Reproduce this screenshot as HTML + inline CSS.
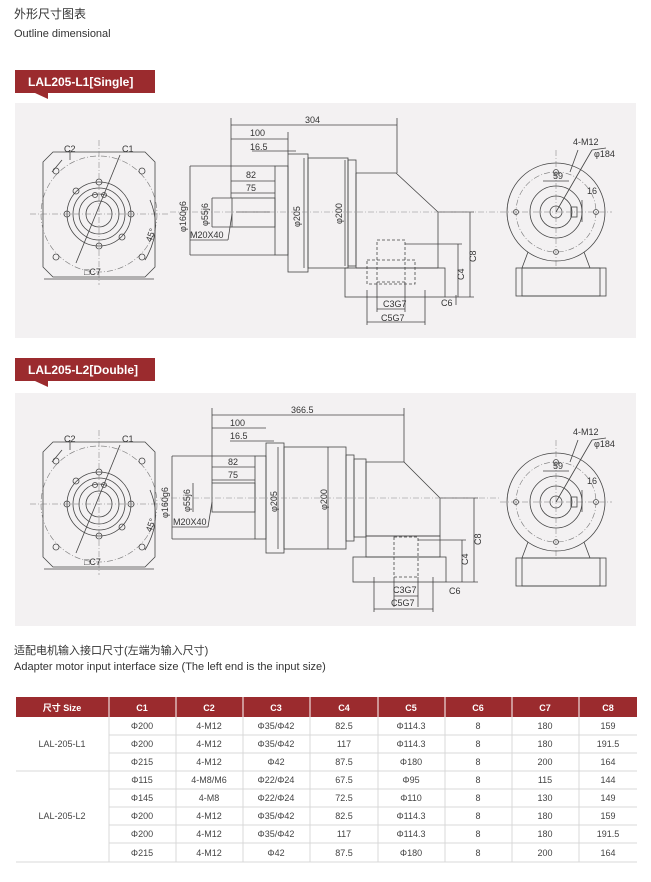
<!DOCTYPE html>
<html><head><meta charset="utf-8"><style>
html,body{margin:0;padding:0;background:#fff;}
body{width:651px;height:877px;overflow:hidden;}
svg text{font-family:"Liberation Sans","Noto Sans CJK SC",sans-serif;}
</style></head><body>
<svg width="651" height="877" viewBox="0 0 651 877" xmlns="http://www.w3.org/2000/svg">
<defs>
<g id="leftv" fill="none" stroke="#444" stroke-width="0.8">
  <path d="M53,152 L145,152 L155,162 L155,267 L145,277 L53,277 L43,267 L43,162 Z"/>
  <circle cx="99" cy="214" r="58" stroke-dasharray="6,2,1,2" stroke="#777" stroke-width="0.6"/>
  <circle cx="99" cy="214" r="32"/>
  <circle cx="99" cy="214" r="26"/>
  <circle cx="99" cy="214" r="20"/>
  <circle cx="99" cy="214" r="13"/>
  <circle cx="99" cy="182" r="3"/><circle cx="99" cy="246" r="3"/>
  <circle cx="67" cy="214" r="3"/><circle cx="131" cy="214" r="3"/>
  <circle cx="76" cy="191" r="3"/><circle cx="122" cy="237" r="3"/>
  <circle cx="56" cy="171" r="3"/><circle cx="142" cy="171" r="3"/>
  <circle cx="56" cy="257" r="3"/><circle cx="142" cy="257" r="3"/>
  <circle cx="95" cy="195" r="2.5"/><circle cx="104" cy="195" r="2.5"/>
  <line x1="30" y1="214" x2="170" y2="214" stroke-dasharray="6,2,1,2" stroke="#777" stroke-width="0.5"/>
  <line x1="99" y1="140" x2="99" y2="285" stroke-dasharray="6,2,1,2" stroke="#777" stroke-width="0.5"/>
  <line x1="70" y1="160" x2="70" y2="150"/><line x1="120" y1="155" x2="76" y2="263"/>
  <line x1="62" y1="160" x2="52" y2="172"/>
  <line x1="44" y1="279" x2="154" y2="279"/>
  <path d="M145,260 Q163,230 150,200" />
</g>
<g id="rightv" fill="none" stroke="#444" stroke-width="0.8">
  <circle cx="556" cy="212" r="49"/>
  <circle cx="556" cy="212" r="40" stroke-dasharray="6,2,1,2" stroke="#777" stroke-width="0.6"/>
  <circle cx="556" cy="212" r="26"/>
  <circle cx="556" cy="212" r="16"/>
  <circle cx="556" cy="212" r="6"/>
  <rect x="571" y="207" width="6" height="10"/>
  <circle cx="556" cy="172" r="2.5"/><circle cx="556" cy="252" r="2.5"/>
  <circle cx="516" cy="212" r="2.5"/><circle cx="596" cy="212" r="2.5"/>
  <path d="M528,252 L522,268 M584,252 L590,268"/>
  <rect x="516" y="268" width="90" height="28"/>
  <rect x="522" y="268" width="78" height="28"/>
  <line x1="500" y1="212" x2="612" y2="212" stroke-dasharray="6,2,1,2" stroke="#777" stroke-width="0.5"/>
  <line x1="556" y1="150" x2="556" y2="270" stroke-dasharray="6,2,1,2" stroke="#777" stroke-width="0.5"/>
  <line x1="556" y1="212" x2="592" y2="150"/><line x1="592" y1="150" x2="606" y2="148"/>
  <line x1="570" y1="172" x2="578" y2="150"/>
  <line x1="543" y1="181" x2="569" y2="181"/>
  <line x1="582" y1="200" x2="582" y2="222"/>
</g>
<g id="lefttxt" font-size="9" fill="#333">
  <text x="64" y="152">C2</text><text x="122" y="152">C1</text>
  <text x="84" y="275">□C7</text>
  <text x="148" y="242" transform="rotate(-70 150 240)">45°</text>
</g>
<g id="righttxt" font-size="9" fill="#333">
  <text x="573" y="145">4-M12</text><text x="594" y="157">φ184</text>
  <text x="553" y="179">59</text><text x="587" y="194">16</text>
</g>
</defs>

<text x="14" y="18" font-size="12" fill="#333">外形尺寸图表</text>
<text x="14" y="37" font-size="11" fill="#333">Outline dimensional</text>

<!-- Section 1 -->
<rect x="15" y="70" width="140" height="23" fill="#9b2b2e"/>
<path d="M35,93 L48,93 L48,99 Z" fill="#9b2b2e"/>
<text x="28" y="86" font-size="12" font-weight="bold" fill="#fff">LAL205-L1[Single]</text>
<rect x="15" y="103" width="621" height="235" fill="#f3f1f2"/>
<use href="#leftv"/><use href="#lefttxt"/><use href="#rightv"/><use href="#righttxt"/>
<g fill="none" stroke="#444" stroke-width="0.8">
  <rect x="232" y="198" width="43" height="29"/>
  <path d="M236,212 L270,212"/>
  <rect x="275" y="166" width="13" height="89"/>
  <rect x="288" y="154" width="20" height="118"/>
  <rect x="308" y="158" width="40" height="110"/>
  <rect x="348" y="160" width="8" height="106"/>
  <path d="M356,173 L396,173 L438,212 L438,268 M356,268 L438,268"/>
  <path d="M356,268 L356,173"/>
  <rect x="345" y="268" width="100" height="29"/>
  <rect x="377" y="240" width="28" height="42" stroke-dasharray="3,2"/>
  <rect x="367" y="260" width="48" height="24" stroke-dasharray="3,2"/>
  <line x1="231" y1="118" x2="231" y2="198"/><line x1="397" y1="118" x2="397" y2="173"/>
  <line x1="231" y1="125" x2="397" y2="125"/>
  <line x1="231" y1="139" x2="288" y2="139"/><line x1="288" y1="132" x2="288" y2="154"/>
  <line x1="252" y1="151" x2="296" y2="151"/>
  <line x1="231" y1="181" x2="275" y2="181"/>
  <line x1="231" y1="193" x2="275" y2="193"/>
  <line x1="190" y1="166" x2="190" y2="255"/><line x1="190" y1="166" x2="275" y2="166"/><line x1="190" y1="255" x2="275" y2="255"/>
  <line x1="212" y1="198" x2="212" y2="227"/><line x1="212" y1="198" x2="232" y2="198"/><line x1="212" y1="227" x2="232" y2="227"/>
  <line x1="228" y1="240" x2="232" y2="214"/><line x1="190" y1="240" x2="228" y2="240"/>
  <line x1="304" y1="158" x2="304" y2="268"/><line x1="345" y1="160" x2="345" y2="266"/>
  <line x1="438" y1="212" x2="474" y2="212"/><line x1="470" y1="212" x2="470" y2="297"/>
  <line x1="445" y1="297" x2="474" y2="297"/>
  <line x1="405" y1="244" x2="462" y2="244"/><line x1="458" y1="244" x2="458" y2="297"/>
  <line x1="456" y1="305" x2="456" y2="295"/>
  <line x1="377" y1="282" x2="377" y2="312"/><line x1="405" y1="282" x2="405" y2="312"/>
  <line x1="367" y1="290" x2="367" y2="325"/><line x1="425" y1="290" x2="425" y2="325"/>
  <line x1="377" y1="309" x2="405" y2="309"/><line x1="367" y1="322" x2="425" y2="322"/>
  <line x1="170" y1="212" x2="500" y2="212" stroke-dasharray="6,2,1,2" stroke="#888" stroke-width="0.5"/>
</g>
<g font-size="9" fill="#333">
  <text x="305" y="123">304</text><text x="250" y="136">100</text><text x="250" y="150">16.5</text>
  <text x="246" y="178">82</text><text x="246" y="191">75</text>
  <text x="190" y="238">M20X40</text>
  <text transform="translate(186,232) rotate(-90)">φ160g6</text>
  <text transform="translate(208,226) rotate(-90)">φ55j6</text>
  <text transform="translate(300,227) rotate(-90)">φ205</text>
  <text transform="translate(342,224) rotate(-90)">φ200</text>
  <text transform="translate(476,262) rotate(-90)">C8</text>
  <text transform="translate(464,280) rotate(-90)">C4</text>
  <text x="441" y="306">C6</text>
  <text x="383" y="307">C3G7</text><text x="381" y="321">C5G7</text>
</g>

<!-- Section 2 -->
<rect x="15" y="358" width="140" height="23" fill="#9b2b2e"/>
<path d="M35,381 L48,381 L48,387 Z" fill="#9b2b2e"/>
<text x="28" y="374" font-size="12" font-weight="bold" fill="#fff">LAL205-L2[Double]</text>
<rect x="15" y="393" width="621" height="233" fill="#f3f1f2"/>
<g transform="translate(0,290)"><use href="#leftv"/><use href="#lefttxt"/><use href="#rightv"/><use href="#righttxt"/></g>
<g fill="none" stroke="#444" stroke-width="0.8">
  <rect x="212" y="483" width="43" height="29"/>
  <rect x="255" y="456" width="11" height="83"/>
  <rect x="266" y="443" width="18" height="110"/>
  <rect x="284" y="447" width="62" height="102"/>
  <rect x="346" y="455" width="8" height="86"/>
  <rect x="354" y="459" width="12" height="78"/>
  <path d="M366,462 L404,462 L440,498 L440,536 L366,536 Z"/>
  <rect x="353" y="557" width="93" height="25"/>
  <rect x="366" y="536" width="74" height="21"/>
  <rect x="394" y="537" width="24" height="40" stroke-dasharray="3,2"/>
  <line x1="212" y1="408" x2="212" y2="483"/><line x1="404" y1="408" x2="404" y2="462"/>
  <line x1="212" y1="415" x2="404" y2="415"/>
  <line x1="212" y1="428" x2="266" y2="428"/>
  <line x1="230" y1="441" x2="274" y2="441"/>
  <line x1="212" y1="467" x2="255" y2="467"/>
  <line x1="212" y1="480" x2="255" y2="480"/>
  <line x1="172" y1="456" x2="172" y2="539"/><line x1="172" y1="456" x2="255" y2="456"/><line x1="172" y1="539" x2="255" y2="539"/>
  <line x1="193" y1="483" x2="193" y2="512"/>
  <line x1="208" y1="527" x2="212" y2="502"/><line x1="172" y1="527" x2="208" y2="527"/>
  <line x1="278" y1="447" x2="278" y2="549"/><line x1="328" y1="447" x2="328" y2="549"/>
  <line x1="440" y1="498" x2="478" y2="498"/><line x1="474" y1="498" x2="474" y2="582"/>
  <line x1="446" y1="582" x2="478" y2="582"/>
  <line x1="418" y1="540" x2="466" y2="540"/><line x1="462" y1="540" x2="462" y2="582"/>
  <line x1="394" y1="577" x2="394" y2="607"/><line x1="418" y1="577" x2="418" y2="607"/>
  <line x1="374" y1="577" x2="374" y2="612"/><line x1="433" y1="577" x2="433" y2="612"/>
  <line x1="394" y1="596" x2="418" y2="596"/><line x1="374" y1="609" x2="433" y2="609"/>
  <line x1="160" y1="498" x2="500" y2="498" stroke-dasharray="6,2,1,2" stroke="#888" stroke-width="0.5"/>
</g>
<g font-size="9" fill="#333">
  <text x="291" y="413">366.5</text><text x="230" y="426">100</text><text x="230" y="439">16.5</text>
  <text x="228" y="465">82</text><text x="228" y="478">75</text>
  <text x="173" y="525">M20X40</text>
  <text transform="translate(168,518) rotate(-90)">φ160g6</text>
  <text transform="translate(190,512) rotate(-90)">φ55j6</text>
  <text transform="translate(277,512) rotate(-90)">φ205</text>
  <text transform="translate(327,510) rotate(-90)">φ200</text>
  <text transform="translate(481,545) rotate(-90)">C8</text>
  <text transform="translate(468,565) rotate(-90)">C4</text>
  <text x="449" y="594">C6</text>
  <text x="393" y="593">C3G7</text><text x="391" y="606">C5G7</text>
</g>

<text x="14" y="654" font-size="11" fill="#333">适配电机输入接口尺寸(左端为输入尺寸)</text>
<text x="14" y="670" font-size="11" fill="#333">Adapter motor input interface size (The left end is the input size)</text>

<!-- Table -->
<rect x="16" y="697" width="621" height="20" fill="#9b2b2e"/>
<g stroke="#fff" stroke-width="1">
  <line x1="109" y1="697" x2="109" y2="717"/><line x1="176" y1="697" x2="176" y2="717"/>
  <line x1="243" y1="697" x2="243" y2="717"/><line x1="310" y1="697" x2="310" y2="717"/>
  <line x1="378" y1="697" x2="378" y2="717"/><line x1="445" y1="697" x2="445" y2="717"/>
  <line x1="512" y1="697" x2="512" y2="717"/><line x1="579" y1="697" x2="579" y2="717"/>
</g>
<g stroke="#d8d8d8" stroke-width="1">
  <line x1="109" y1="717" x2="109" y2="862"/><line x1="176" y1="717" x2="176" y2="862"/>
  <line x1="243" y1="717" x2="243" y2="862"/><line x1="310" y1="717" x2="310" y2="862"/>
  <line x1="378" y1="717" x2="378" y2="862"/><line x1="445" y1="717" x2="445" y2="862"/>
  <line x1="512" y1="717" x2="512" y2="862"/><line x1="579" y1="717" x2="579" y2="862"/>
  <line x1="109" y1="735" x2="637" y2="735"/><line x1="109" y1="753" x2="637" y2="753"/>
  <line x1="16" y1="771" x2="637" y2="771"/>
  <line x1="109" y1="789" x2="637" y2="789"/><line x1="109" y1="807" x2="637" y2="807"/>
  <line x1="109" y1="825" x2="637" y2="825"/><line x1="109" y1="843" x2="637" y2="843"/>
  <line x1="16" y1="862" x2="637" y2="862"/>
</g>
<g font-size="9" fill="#fff" font-weight="bold" text-anchor="middle">
  <text x="62" y="711">尺寸 Size</text><text x="142" y="711">C1</text><text x="209" y="711">C2</text>
  <text x="276" y="711">C3</text><text x="344" y="711">C4</text><text x="411" y="711">C5</text>
  <text x="478" y="711">C6</text><text x="545" y="711">C7</text><text x="608" y="711">C8</text>
</g>
<g font-size="9" fill="#444" text-anchor="middle">
  <text x="62" y="747">LAL-205-L1</text><text x="62" y="819">LAL-205-L2</text>
  <text x="142" y="729">Φ200</text><text x="209" y="729">4-M12</text><text x="276" y="729">Φ35/Φ42</text><text x="344" y="729">82.5</text><text x="411" y="729">Φ114.3</text><text x="478" y="729">8</text><text x="545" y="729">180</text><text x="608" y="729">159</text>
  <text x="142" y="747">Φ200</text><text x="209" y="747">4-M12</text><text x="276" y="747">Φ35/Φ42</text><text x="344" y="747">117</text><text x="411" y="747">Φ114.3</text><text x="478" y="747">8</text><text x="545" y="747">180</text><text x="608" y="747">191.5</text>
  <text x="142" y="765">Φ215</text><text x="209" y="765">4-M12</text><text x="276" y="765">Φ42</text><text x="344" y="765">87.5</text><text x="411" y="765">Φ180</text><text x="478" y="765">8</text><text x="545" y="765">200</text><text x="608" y="765">164</text>
  <text x="142" y="783">Φ115</text><text x="209" y="783">4-M8/M6</text><text x="276" y="783">Φ22/Φ24</text><text x="344" y="783">67.5</text><text x="411" y="783">Φ95</text><text x="478" y="783">8</text><text x="545" y="783">115</text><text x="608" y="783">144</text>
  <text x="142" y="801">Φ145</text><text x="209" y="801">4-M8</text><text x="276" y="801">Φ22/Φ24</text><text x="344" y="801">72.5</text><text x="411" y="801">Φ110</text><text x="478" y="801">8</text><text x="545" y="801">130</text><text x="608" y="801">149</text>
  <text x="142" y="819">Φ200</text><text x="209" y="819">4-M12</text><text x="276" y="819">Φ35/Φ42</text><text x="344" y="819">82.5</text><text x="411" y="819">Φ114.3</text><text x="478" y="819">8</text><text x="545" y="819">180</text><text x="608" y="819">159</text>
  <text x="142" y="837">Φ200</text><text x="209" y="837">4-M12</text><text x="276" y="837">Φ35/Φ42</text><text x="344" y="837">117</text><text x="411" y="837">Φ114.3</text><text x="478" y="837">8</text><text x="545" y="837">180</text><text x="608" y="837">191.5</text>
  <text x="142" y="856">Φ215</text><text x="209" y="856">4-M12</text><text x="276" y="856">Φ42</text><text x="344" y="856">87.5</text><text x="411" y="856">Φ180</text><text x="478" y="856">8</text><text x="545" y="856">200</text><text x="608" y="856">164</text>
</g>
</svg>
</body></html>
